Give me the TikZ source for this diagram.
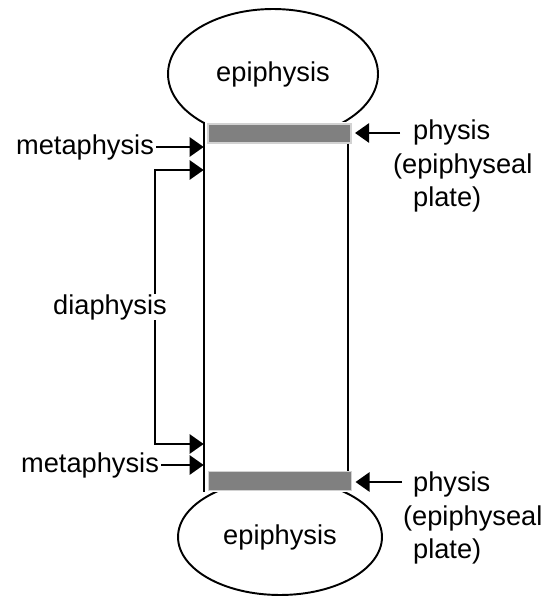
\documentclass[tikz,border=0pt]{standalone}
\usepackage{fontspec}
\setmainfont{Liberation Sans}
\usetikzlibrary{arrows.meta,shapes.geometric}
\tikzset{
  boneend/.style={ellipse,draw,line width=1.1pt,fill=white,inner sep=0pt,
    font=\fontsize{15.5}{19}\selectfont},
  plate/.style={rectangle,draw=gray!35,fill=gray,line width=0.6pt,
    minimum width=2.86cm,minimum height=0.38cm,inner sep=0pt},
  lbl/.style={font=\fontsize{15.5}{19}\selectfont,inner sep=1pt},
  pointer/.style={line width=1.1pt,-{Triangle[length=8pt,width=11pt]}}
}
\begin{document}
\begin{tikzpicture}[x=0.02cm,y=-0.02cm]
\useasboundingbox (0,0) rectangle (555,597);
% bone ends
\node[boneend,minimum width=4.2cm,minimum height=2.6cm] (epiTop) at (273,74) {epiphysis};
\node[boneend,minimum width=4.08cm,minimum height=2.32cm] (epiBot) at (280,537) {epiphysis};
% shaft
\node[rectangle,fill=white,minimum width=2.88cm,minimum height=7.4cm,
    inner sep=0pt] (shaft) at (276,307) {};
\node[plate] (physTop) at (279.5,133.5) {};
\node[plate] (physBot) at (280,481) {};
\draw[line width=1.1pt] (shaft.north west) -- (shaft.south west);
\draw[line width=1.1pt] (shaft.east |- physTop.south) -- (shaft.east |- physBot.north);

% left labels
\coordinate (diaTop) at (155,170);
\coordinate (diaBot) at (155,444);
\draw[pointer,{Triangle[length=8pt,width=11pt]}-{Triangle[length=8pt,width=11pt]}]
  (diaTop -| shaft.west) -- (diaTop) -- (diaBot) -- (diaBot -| shaft.west);
\node[lbl,anchor=east] (metaTop) at (156,147) {metaphysis};
\node[lbl,anchor=east] (metaBot) at (161,465) {metaphysis};
\node[lbl,fill=white,inner sep=0pt] (dia) at (110,307) {diaphysis};
\draw[pointer] (metaTop.east) -- (metaTop.east -| shaft.west);
\draw[pointer] (metaBot.east) -- (metaBot.east -| shaft.west);

% right labels
\node[lbl,anchor=west,align=left] (plateTop) at (391,166)
  {\hspace*{0.4cm}physis\\(epiphyseal\\\hspace*{0.4cm}plate)};
\node[lbl,anchor=west,align=left] (plateBot) at (401,518)
  {\hspace*{0.2cm}physis\\(epiphyseal\\\hspace*{0.2cm}plate)};
\coordinate (tailTop) at (400,133);
\coordinate (tailBot) at (402,482);
\draw[pointer,shorten >=2pt] (tailTop) -- (tailTop -| physTop.east);
\draw[pointer,shorten >=2pt] (tailBot) -- (tailBot -| physBot.east);
\end{tikzpicture}
\end{document}
